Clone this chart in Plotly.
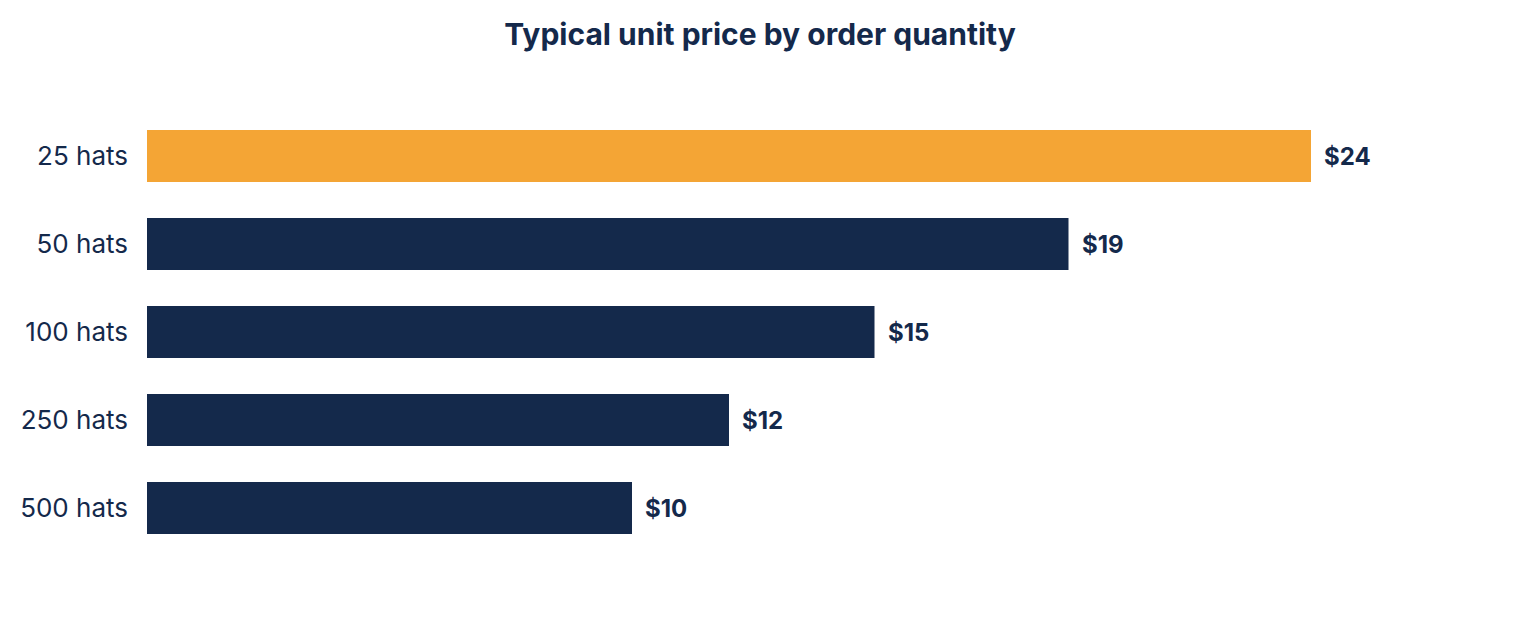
import plotly.graph_objects as go

categories = ["25 hats", "50 hats", "100 hats", "250 hats", "500 hats"]
prices = [24, 19, 15, 12, 10]
value_labels = ["$24", "$19", "$15", "$12", "$10"]
highlight = "25 hats"

NAVY = "#14294B"
ORANGE = "#F4A535"
colors = [ORANGE if c == highlight else NAVY for c in categories]

fig = go.Figure(
    go.Bar(
        x=prices,
        y=categories,
        orientation="h",
        marker=dict(color=colors, line=dict(width=0)),
        width=0.59,
        hoverinfo="skip",
    )
)

for c, p, t in zip(categories, prices, value_labels):
    fig.add_annotation(
        x=p, y=c, text=f"<b>{t}</b>", showarrow=False,
        xanchor="left", yanchor="middle", xshift=11,
        font=dict(family="Inter", size=24, color=NAVY),
    )

fig.update_layout(
    width=1520, height=620,
    margin=dict(l=147, r=100, t=112, b=68),
    paper_bgcolor="white", plot_bgcolor="white",
    title=dict(
        text="<b>Typical unit price by order quantity</b>",
        x=0.5, xanchor="center", y=1 - 34 / 620, yanchor="middle",
        font=dict(family="Inter", size=30, color=NAVY),
    ),
    xaxis=dict(range=[0, 1273 / 48.5], visible=False, showgrid=False, zeroline=False),
    yaxis=dict(
        categoryorder="array", categoryarray=categories[::-1],
        range=[-0.5, 4.5], showgrid=False, zeroline=False, showline=False,
        tickfont=dict(family="Inter", size=26, color=NAVY),
        ticklabelstandoff=18,
    ),
    showlegend=False,
)

fig.write_html("out.html")
